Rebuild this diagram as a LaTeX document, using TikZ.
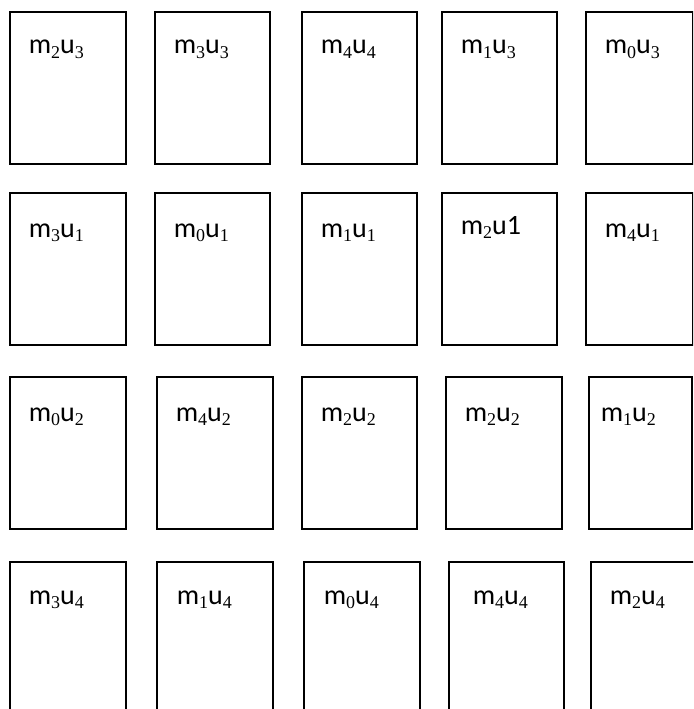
\documentclass[tikz,border=0pt]{standalone}
\usepackage{fontspec}
\setmainfont{Carlito}
\newfontfamily\subfont{Liberation Serif}
\usepackage{tikz}
\usetikzlibrary{positioning}

\newcommand{\sbs}[1]{\raisebox{-0.3ex}{\subfont\fontsize{18}{20}\selectfont #1}}

\begin{document}
\begin{tikzpicture}[
				x=1pt, y=-1pt,
				line width=1.7pt,
				card/.style = {draw, anchor=north west, inner sep=0pt, minimum height=152pt},
				tag/.style = {anchor=base west, inner sep=0pt, font=\fontsize{28}{32}\selectfont}
				]
				\useasboundingbox (0,0) rectangle (693,709);
				\clip (0,0) rectangle (693,709);
				
				\node[card, minimum width=116pt] (b11) at (9,11) {};
				\node[card, minimum width=115pt] (b12) at (154,11) {};
				\node[card, minimum width=115pt] (b13) at (301,11) {};
				\node[card, minimum width=115pt] (b14) at (441,11) {};
				\node[card, minimum width=107pt] (b15) at (585,11) {};
				
				\node[card, minimum width=116pt] (b21) at (9,192) {};
				\node[card, minimum width=115pt] (b22) at (154,192) {};
				\node[card, minimum width=115pt] (b23) at (301,192) {};
				\node[card, minimum width=115pt] (b24) at (441,192) {};
				\node[card, minimum width=107pt] (b25) at (585,192) {};
				
				\node[card, minimum width=116pt] (b31) at (9,376) {};
				\node[card, minimum width=116pt] (b32) at (156,376) {};
				\node[card, minimum width=115pt] (b33) at (301,376) {};
				\node[card, minimum width=116pt] (b34) at (445,376) {};
				\node[card, minimum width=103pt] (b35) at (588,376) {};
				
				\node[card, minimum width=116pt] (b41) at (9,561) {};
				\node[card, minimum width=116pt] (b42) at (156,561) {};
				\node[card, minimum width=116pt] (b43) at (303,561) {};
				\node[card, minimum width=115pt] (b44) at (448,561) {};
				\node[card, minimum width=116pt] (b45) at (590,561) {};
				
				\node[tag] (t11) at ([xshift=19pt, yshift=-43pt]b11.north west) {m\sbs{2}u\sbs{3}};
				\node[tag] (t12) at ([xshift=19pt, yshift=-43pt]b12.north west) {m\sbs{3}u\sbs{3}};
				\node[tag] (t13) at ([xshift=19pt, yshift=-43pt]b13.north west) {m\sbs{4}u\sbs{4}};
				\node[tag] (t14) at ([xshift=19pt, yshift=-43pt]b14.north west) {m\sbs{1}u\sbs{3}};
				\node[tag] (t15) at ([xshift=19pt, yshift=-43pt]b15.north west) {m\sbs{0}u\sbs{3}};
				
				\node[tag] (t21) at ([xshift=19pt, yshift=-45pt]b21.north west) {m\sbs{3}u\sbs{1}};
				\node[tag] (t22) at ([xshift=19pt, yshift=-45pt]b22.north west) {m\sbs{0}u\sbs{1}};
				\node[tag] (t23) at ([xshift=19pt, yshift=-45pt]b23.north west) {m\sbs{1}u\sbs{1}};
				\node[tag] (t24) at ([xshift=19pt, yshift=-42pt]b24.north west) {m\sbs{2}u1};
				\node[tag] (t25) at ([xshift=19pt, yshift=-45pt]b25.north west) {m\sbs{4}u\sbs{1}};
				
				\node[tag] (t31) at ([xshift=19pt, yshift=-45pt]b31.north west) {m\sbs{0}u\sbs{2}};
				\node[tag] (t32) at ([xshift=19pt, yshift=-45pt]b32.north west) {m\sbs{4}u\sbs{2}};
				\node[tag] (t33) at ([xshift=19pt, yshift=-45pt]b33.north west) {m\sbs{2}u\sbs{2}};
				\node[tag] (t34) at ([xshift=19pt, yshift=-45pt]b34.north west) {m\sbs{2}u\sbs{2}};
				\node[tag] (t35) at ([xshift=12pt, yshift=-45pt]b35.north west) {m\sbs{1}u\sbs{2}};
				
				\node[tag] (t41) at ([xshift=19pt, yshift=-43pt]b41.north west) {m\sbs{3}u\sbs{4}};
				\node[tag] (t42) at ([xshift=20pt, yshift=-43pt]b42.north west) {m\sbs{1}u\sbs{4}};
				\node[tag] (t43) at ([xshift=20pt, yshift=-43pt]b43.north west) {m\sbs{0}u\sbs{4}};
				\node[tag] (t44) at ([xshift=24pt, yshift=-43pt]b44.north west) {m\sbs{4}u\sbs{4}};
				\node[tag] (t45) at ([xshift=19pt, yshift=-43pt]b45.north west) {m\sbs{2}u\sbs{4}};
			\end{tikzpicture}
\end{document}
